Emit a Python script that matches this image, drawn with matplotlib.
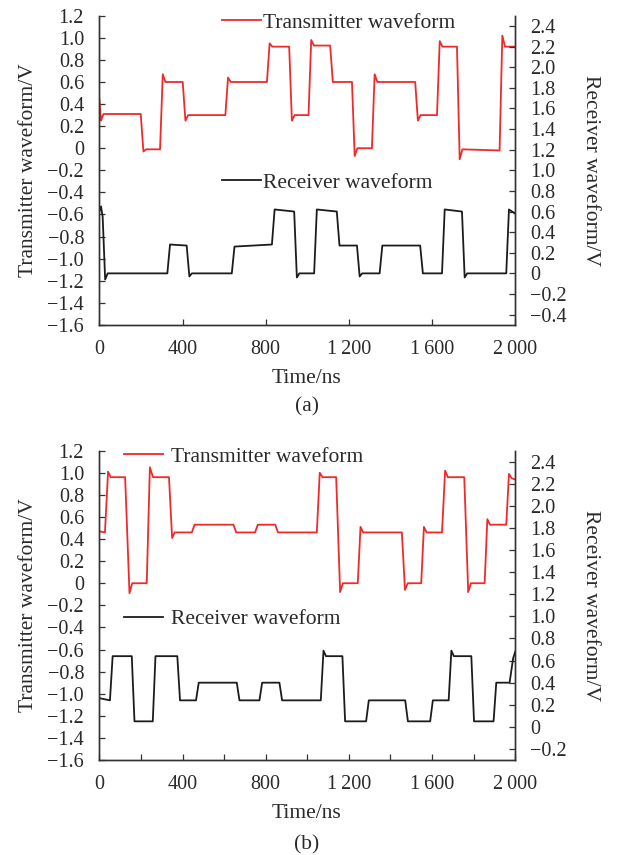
import matplotlib
matplotlib.use("Agg")
import matplotlib.pyplot as plt
from matplotlib.ticker import FuncFormatter, MultipleLocator

plt.rcParams['font.family'] = ['Liberation Serif', 'DejaVu Serif']
plt.rcParams['axes.unicode_minus'] = True

# ---------------- data ----------------
# Panel (a) transmitter (left axis, V)
tx_a_t = [0, 8, 20, 199, 212, 225, 292, 305, 318, 401, 414, 427, 606, 619, 632, 806, 819, 832,
          913, 926, 939, 1006, 1019, 1032, 1110, 1123, 1215, 1228, 1241, 1311, 1324, 1337, 1519,
          1532, 1545, 1624, 1637, 1650, 1720, 1733, 1746, 1925, 1938, 1951, 2000]
tx_a_v = [0.45, 0.25, 0.31, 0.31, -0.03, -0.01, -0.01, 0.67, 0.60, 0.60, 0.25, 0.30, 0.30, 0.64, 0.60,
          0.60, 0.95, 0.92, 0.92, 0.25, 0.30, 0.30, 0.98, 0.93, 0.93, 0.60, 0.60, -0.07, 0.0, 0.0,
          0.67, 0.60, 0.60, 0.25, 0.30, 0.30, 0.97, 0.92, 0.92, -0.10, -0.01, -0.02, 1.02, 0.92, 0.92]
# Panel (a) receiver (right axis, V)
rx_a_t = [0, 8, 16, 28, 40, 327, 340, 420, 433, 445, 637, 650, 830, 843, 937, 950, 962, 1033, 1046,
          1142, 1155, 1239, 1252, 1264, 1348, 1361, 1543, 1556, 1648, 1661, 1744, 1757, 1769, 1957,
          1970, 2000]
rx_a_v = [0.60, 0.65, 0.55, -0.06, 0.0, 0.0, 0.28, 0.27, -0.03, 0.0, 0.0, 0.26, 0.28, 0.62, 0.60,
          -0.04, 0.0, 0.0, 0.62, 0.60, 0.27, 0.27, -0.03, 0.0, 0.0, 0.27, 0.27, 0.0, 0.0, 0.62, 0.60,
          -0.04, 0.0, 0.0, 0.62, 0.58]
# Panel (b) transmitter (left axis, V)
tx_b_t = [0, 27, 42, 55, 124, 145, 158, 228, 243, 258, 335, 350, 362, 445, 458, 645, 658, 749, 762,
          846, 859, 1046, 1060, 1073, 1139, 1158, 1171, 1243, 1256, 1269, 1455, 1470, 1483, 1548,
          1561, 1574, 1648, 1663, 1676, 1755, 1774, 1787, 1853, 1866, 1879, 1957, 1970, 1983, 2000]
tx_b_v = [0.47, 0.46, 1.01, 0.96, 0.96, -0.09, 0.0, 0.0, 1.05, 0.96, 0.96, 0.41, 0.46, 0.46, 0.53,
          0.53, 0.46, 0.46, 0.53, 0.53, 0.46, 0.46, 1.00, 0.96, 0.96, -0.08, 0.0, 0.0, 0.51, 0.46,
          0.46, -0.06, 0.0, 0.0, 0.51, 0.46, 0.46, 1.02, 0.96, 0.96, -0.08, 0.0, 0.0, 0.58, 0.53,
          0.53, 0.99, 0.95, 0.94]
# Panel (b) receiver (right axis, V)
rx_b_t = [0, 51, 64, 156, 169, 257, 270, 375, 388, 465, 478, 661, 674, 770, 783, 866, 879, 1065,
          1078, 1090, 1169, 1182, 1283, 1296, 1471, 1484, 1591, 1604, 1680, 1693, 1705, 1789, 1802,
          1896, 1909, 1973, 1990, 2000]
rx_b_v = [0.26, 0.24, 0.64, 0.64, 0.05, 0.05, 0.64, 0.64, 0.24, 0.24, 0.40, 0.40, 0.24, 0.24, 0.40,
          0.40, 0.24, 0.24, 0.69, 0.64, 0.64, 0.05, 0.05, 0.24, 0.24, 0.05, 0.05, 0.24, 0.24, 0.69,
          0.64, 0.64, 0.05, 0.05, 0.40, 0.40, 0.62, 0.68]

left_ticks = [-1.6, -1.4, -1.2, -1.0, -0.8, -0.6, -0.4, -0.2, 0.0, 0.2, 0.4, 0.6, 0.8, 1.0, 1.2]
right_ticks_a = [-0.4, -0.2, 0.0, 0.2, 0.4, 0.6, 0.8, 1.0, 1.2, 1.4, 1.6, 1.8, 2.0, 2.2, 2.4]
right_ticks_b = [-0.2, 0.0, 0.2, 0.4, 0.6, 0.8, 1.0, 1.2, 1.4, 1.6, 1.8, 2.0, 2.2, 2.4]

tx_label = "Transmitter waveform"
rx_label = "Receiver waveform"

# ---------------- style ----------------
RED = '#ee2a2a'
BLK = '#1c1c1c'
TXT = '#2a2a2a'
SPN = '#333333'
FS_TICK = 14.5
FS_LAB = 15.5


def yfmt(v, pos):
    if abs(v) < 1e-9:
        return '0'
    return ('%.1f' % v).replace('-', '\u2212')


def xfmt(v, pos):
    iv = int(round(v))
    if iv % 400 != 0:
        return ''
    s = str(iv)
    if iv >= 1000:
        s = s[:-3] + '\u2009' + s[-3:]
    return s


fig = plt.figure(figsize=(6.17, 8.55), dpi=100)


def panel(rect, tx_t, tx_v, rx_t, rx_v, rticks, rlim, xstep, leg_x, leg_tx_y, leg_rx_y,
          tpad, letter, time_y, letter_y):
    ax = fig.add_axes(rect)
    ax2 = ax.twinx()
    ax.plot(tx_t, tx_v, color=RED, lw=1.3, label=tx_label)
    ax2.plot(rx_t, rx_v, color=BLK, lw=1.3, label=rx_label)
    ax.set_xlim(0, 2000)
    ax.set_ylim(-1.6, 1.2)
    ax2.set_ylim(*rlim)
    ax.set_yticks(left_ticks)
    ax2.set_yticks(rticks)
    ax.xaxis.set_major_locator(MultipleLocator(xstep))
    ax.xaxis.set_major_formatter(FuncFormatter(xfmt))
    ax.yaxis.set_major_formatter(FuncFormatter(yfmt))
    ax2.yaxis.set_major_formatter(FuncFormatter(yfmt))
    for a in (ax, ax2):
        for s in a.spines.values():
            s.set_color(SPN)
            s.set_linewidth(1.0)
        a.tick_params(direction='in', length=4.5, width=0.9, color=SPN, labelsize=FS_TICK,
                      labelcolor=TXT, pad=11)
    ax.spines['top'].set_visible(False)
    ax2.spines['top'].set_visible(False)
    ax.set_ylabel('Transmitter waveform/V', fontsize=FS_LAB, color=TXT, labelpad=7)
    ax2.set_ylabel('Receiver waveform/V', fontsize=FS_LAB, color=TXT, rotation=270,
                   labelpad=24)
    fig.text(0.4975, time_y, 'Time/ns', fontsize=FS_LAB, color=TXT, ha='center', va='center')
    fig.text(0.4975, letter_y, letter, fontsize=FS_LAB, color=TXT, ha='center', va='center')
    ax.legend(loc='center left', bbox_to_anchor=(leg_x, leg_tx_y), bbox_transform=fig.transFigure,
              frameon=False, fontsize=FS_LAB, handlelength=1.8, handletextpad=tpad,
              borderpad=0, borderaxespad=0, labelcolor=TXT)
    ax2.legend(loc='center left', bbox_to_anchor=(leg_x, leg_rx_y), bbox_transform=fig.transFigure,
               frameon=False, fontsize=FS_LAB, handlelength=1.8, handletextpad=tpad,
               borderpad=0, borderaxespad=0, labelcolor=TXT)
    return ax, ax2


panel([0.161, 0.620, 0.674, 0.3616], tx_a_t, tx_a_v, rx_a_t, rx_a_v, right_ticks_a, (-0.5, 2.5),
      400, 0.360, 0.9737, 0.786, 0.12, '(a)', 1 - 378 / 855, 1 - 407 / 855)
panel([0.161, 0.1111, 0.674, 0.3618], tx_b_t, tx_b_v, rx_b_t, rx_b_v, right_ticks_b, (-0.3, 2.5),
      200, 0.201, 0.4655, 0.276, 0.38, '(b)', 1 - 813 / 855, 1 - 845 / 855)

fig.savefig('out.png', dpi=100)
